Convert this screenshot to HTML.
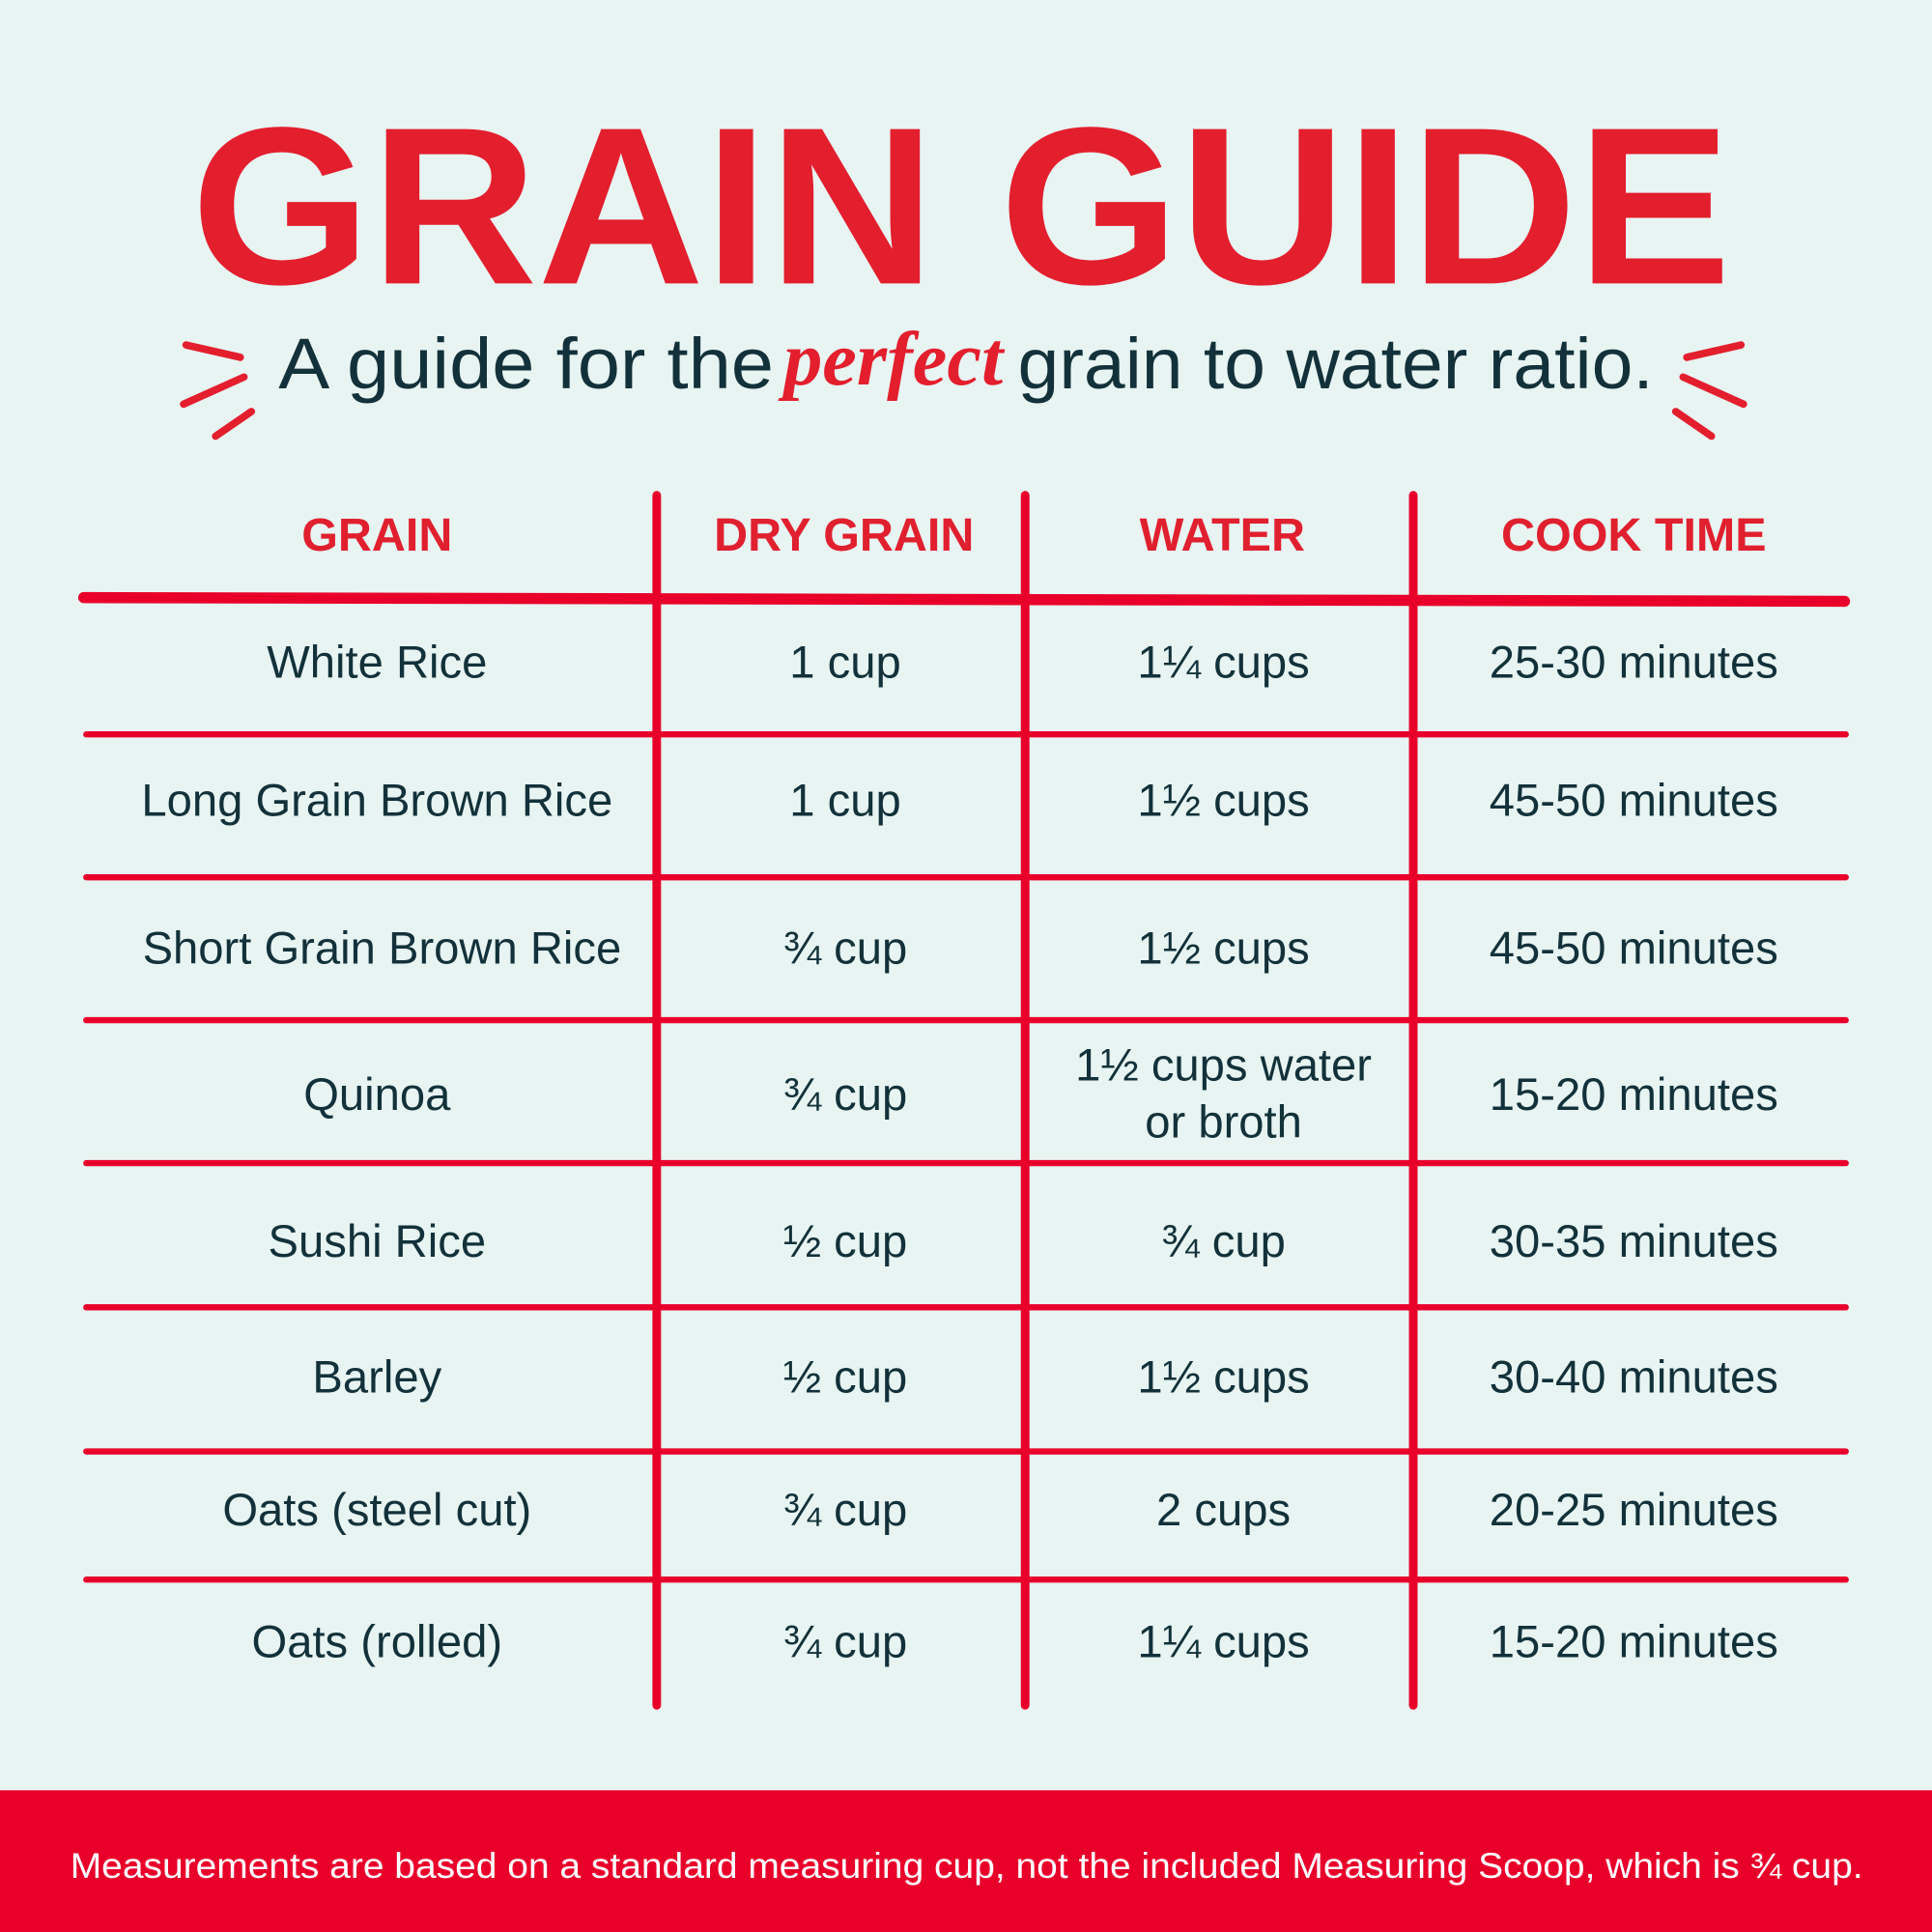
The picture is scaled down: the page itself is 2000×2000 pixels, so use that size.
<!DOCTYPE html>
<html><head><meta charset="utf-8"><style>html,body{margin:0;padding:0;background:#e8f4f2}svg{display:block}</style></head>
<body>
<svg width="2000" height="2000" viewBox="0 0 1568 1568" xmlns="http://www.w3.org/2000/svg">
<rect width="1568" height="1568" fill="#e8f4f2"/>
<text x="155" y="230" font-family="Liberation Sans, sans-serif" font-weight="bold" font-size="182" fill="#e31e2d" textLength="1250" lengthAdjust="spacingAndGlyphs">GRAIN GUIDE</text>
<g font-family="Liberation Sans, sans-serif" font-size="58" fill="#12313a">
<text x="226" y="315" textLength="402" lengthAdjust="spacingAndGlyphs">A guide for the</text>
<text x="636" y="312" font-family="Liberation Serif, serif" font-style="italic" font-weight="bold" fill="#e31e2d" font-size="62" textLength="178" lengthAdjust="spacingAndGlyphs">perfect</text>
<text x="826" y="315" textLength="516" lengthAdjust="spacingAndGlyphs">grain to water ratio.</text>
</g>
<g stroke="#e31e2d" stroke-width="6" stroke-linecap="round" fill="none">
<path d="M151 280 L195 290"/><path d="M149 328 L198 306"/><path d="M175 354 L204 334"/>
<path d="M1413 280 L1369 290"/><path d="M1415 328 L1366 306"/><path d="M1389 354 L1360 334"/>
</g>
<g font-family="Liberation Sans, sans-serif" font-weight="bold" font-size="38" fill="#e0202e" text-anchor="middle">
<text x="306" y="447">GRAIN</text><text x="685" y="447">DRY GRAIN</text><text x="992" y="447">WATER</text><text x="1326" y="447">COOK TIME</text>
</g>
<g stroke="#e8002a" stroke-linecap="round">
<line x1="533" y1="402" x2="533" y2="1384" stroke-width="7"/>
<line x1="832" y1="402" x2="832" y2="1384" stroke-width="7"/>
<line x1="1147" y1="402" x2="1147" y2="1384" stroke-width="7"/>
<line x1="68" y1="485" x2="1497" y2="488" stroke-width="9"/>
<g stroke-width="5">
<line x1="70" y1="596" x2="1498" y2="596"/><line x1="70" y1="712" x2="1498" y2="712"/>
<line x1="70" y1="828" x2="1498" y2="828"/><line x1="70" y1="944" x2="1498" y2="944"/>
<line x1="70" y1="1061" x2="1498" y2="1061"/><line x1="70" y1="1178" x2="1498" y2="1178"/>
<line x1="70" y1="1282" x2="1498" y2="1282"/>
</g></g>
<g font-family="Liberation Sans, sans-serif" font-size="37" fill="#12313a" text-anchor="middle">
<text x="306" y="550">White Rice</text><text x="686" y="550">1 cup</text><text x="993" y="550">1¼ cups</text><text x="1326" y="550">25-30 minutes</text>
<text x="306" y="662">Long Grain Brown Rice</text><text x="686" y="662">1 cup</text><text x="993" y="662">1½ cups</text><text x="1326" y="662">45-50 minutes</text>
<text x="310" y="782">Short Grain Brown Rice</text><text x="686" y="782">¾ cup</text><text x="993" y="782">1½ cups</text><text x="1326" y="782">45-50 minutes</text>
<text x="306" y="901">Quinoa</text><text x="686" y="901">¾ cup</text><text x="993" y="877">1½ cups water</text><text x="993" y="923">or broth</text><text x="1326" y="901">15-20 minutes</text>
<text x="306" y="1020">Sushi Rice</text><text x="686" y="1020">½ cup</text><text x="993" y="1020">¾ cup</text><text x="1326" y="1020">30-35 minutes</text>
<text x="306" y="1130">Barley</text><text x="686" y="1130">½ cup</text><text x="993" y="1130">1½ cups</text><text x="1326" y="1130">30-40 minutes</text>
<text x="306" y="1238">Oats (steel cut)</text><text x="686" y="1238">¾ cup</text><text x="993" y="1238">2 cups</text><text x="1326" y="1238">20-25 minutes</text>
<text x="306" y="1345">Oats (rolled)</text><text x="686" y="1345">¾ cup</text><text x="993" y="1345">1¼ cups</text><text x="1326" y="1345">15-20 minutes</text>
</g>
<rect x="0" y="1453" width="1568" height="115" fill="#e8002a"/>
<text x="57" y="1524" font-family="Liberation Sans, sans-serif" font-size="29" fill="#ffffff" textLength="1455" lengthAdjust="spacingAndGlyphs">Measurements are based on a standard measuring cup, not the included Measuring Scoop, which is ¾ cup.</text>
</svg>
</body></html>
